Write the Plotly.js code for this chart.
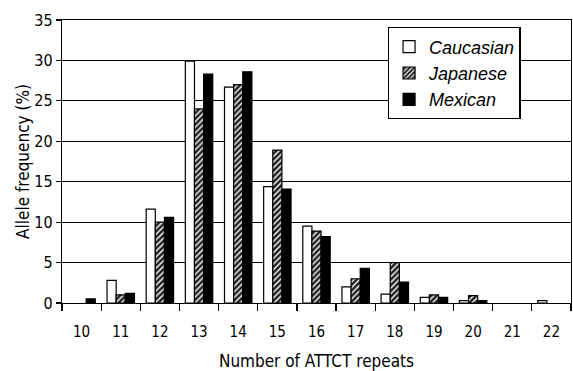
<!DOCTYPE html>
<html>
<head>
<meta charset="utf-8">
<script src="https://cdn.plot.ly/plotly-3.0.1.min.js"></script>
<style>html,body{margin:0;padding:0;background:#fff;}#chart{width:573px;height:371px;}</style>
</head>
<body>
<div id="chart"></div>
<script>
const categories = ["10","11","12","13","14","15","16","17","18","19","20","21","22"];
const caucasian = [null, 2.8, 11.6, 29.9, 26.7, 14.4, 9.5, 2.0, 1.1, 0.7, 0.3, null, 0.3];
const japanese  = [null, 1.0, 10.0, 24.0, 27.0, 18.9, 8.9, 3.0, 5.0, 1.0, 0.9, null, null];
const mexican   = [0.5, 1.2, 10.6, 28.3, 28.6, 14.1, 8.2, 4.3, 2.6, 0.7, 0.3, null, null];
const yTicks = [0, 5, 10, 15, 20, 25, 30, 35];

const FONT = "'DejaVu Sans Condensed', 'Liberation Sans Narrow', Arial, sans-serif";
const line = {color: '#000', width: 1.2};

const traces = [
  {type: 'bar', name: 'Caucasian', x: categories, y: caucasian,
   marker: {color: '#fff', line: line}},
  {type: 'bar', name: 'Japanese', x: categories, y: japanese,
   marker: {color: '#fff', line: line,
            pattern: {shape: '/', fgcolor: '#222', bgcolor: '#fff', size: 4, solidity: 0.65}}},
  {type: 'bar', name: 'Mexican', x: categories, y: mexican,
   marker: {color: '#000', line: line}}
];

const layout = {
  width: 573, height: 371,
  margin: {l: 62, r: 2, t: 20, b: 68},
  paper_bgcolor: '#fff', plot_bgcolor: '#fff',
  barmode: 'group', bargap: 0.3, bargroupgap: 0,
  font: {family: FONT, color: '#000', size: 15},
  showlegend: true,
  legend: {
    x: 0.64, y: 0.975, xanchor: 'left', yanchor: 'top',
    bordercolor: '#000', borderwidth: 1.3, bgcolor: '#fff',
    font: {family: "'Liberation Sans', Arial, sans-serif", size: 18, style: 'italic', color: '#000'},
    itemwidth: 30, tracegroupgap: 0
  },
  xaxis: {
    type: 'category',
    tickvals: categories, ticktext: categories,
    showline: true, linecolor: '#000', linewidth: 1.2, mirror: true,
    ticks: 'outside', tickson: 'boundaries', ticklen: 7, tickcolor: '#000', tickwidth: 1.2,
    ticklabelstandoff: 15,
    tickfont: {family: FONT, size: 15},
    showgrid: false,
    title: {text: 'Number of ATTCT repeats', font: {family: FONT, size: 17}, standoff: 19}
  },
  yaxis: {
    range: [0, 35], tickvals: yTicks, ticktext: yTicks.map(String),
    showline: true, linecolor: '#000', linewidth: 1.2, mirror: true,
    ticks: 'outside', ticklen: 5, tickcolor: '#000', tickwidth: 1.2,
    tickfont: {family: FONT, size: 16},
    showgrid: true, gridcolor: '#000', gridwidth: 1,
    zeroline: false,
    title: {text: 'Allele frequency (%)', font: {family: FONT, size: 17}, standoff: 0}
  }
};

Plotly.newPlot('chart', traces, layout, {displayModeBar: false, staticPlot: true});
</script>
</body>
</html>
